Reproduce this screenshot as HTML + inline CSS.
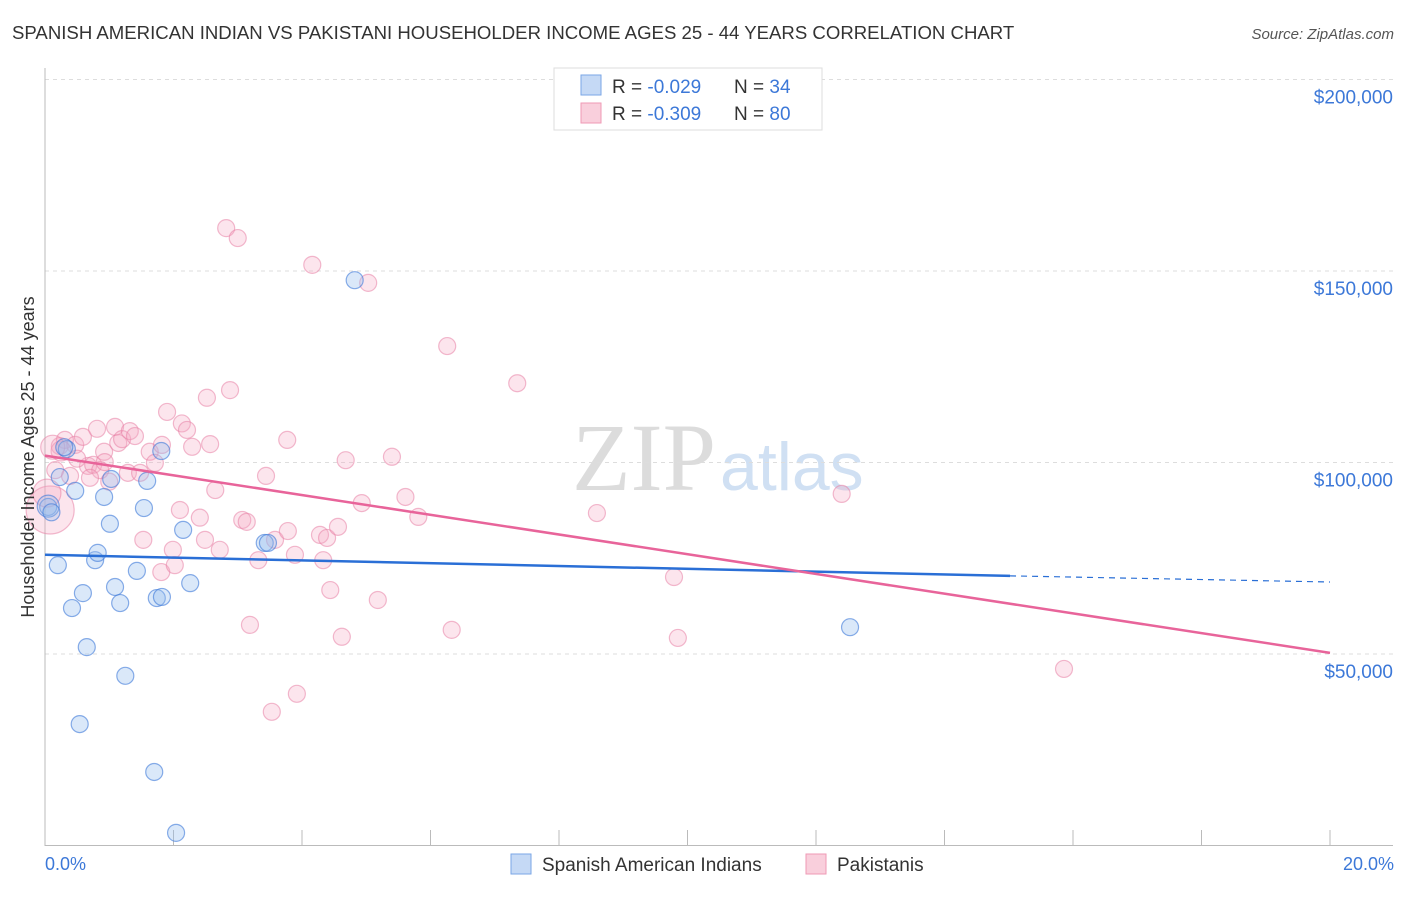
<!DOCTYPE html>
<html><head><meta charset="utf-8"><style>
body{margin:0;background:#fff;font-family:"Liberation Sans",sans-serif}
</style></head><body>
<svg width="1406" height="892" xmlns="http://www.w3.org/2000/svg" font-family="Liberation Sans, sans-serif">
<text x="12" y="39" font-size="18.6" fill="#333">SPANISH AMERICAN INDIAN VS PAKISTANI HOUSEHOLDER INCOME AGES 25 - 44 YEARS CORRELATION CHART</text>
<text x="1394" y="39" font-size="15" fill="#555" font-style="italic" text-anchor="end">Source: ZipAtlas.com</text>
<text x="716" y="490" font-size="96" fill="#dcdcdc" text-anchor="end" font-family="Liberation Serif, serif">ZIP</text>
<text x="720" y="490" font-size="68" fill="#d0e0f3">atlas</text>
<g id="grid"></g><g id="axes"></g><g id="pts"></g><g id="lines"></g>
<text transform="translate(34,457) rotate(-90)" font-size="18" fill="#333" text-anchor="middle">Householder Income Ages 25 - 44 years</text>
<text x="45" y="870" font-size="18" fill="#3c78d8">0.0%</text>
<text x="1394" y="870" font-size="18" fill="#3c78d8" text-anchor="end">20.0%</text>
<g>
<rect x="554" y="68" width="268" height="62" fill="#fff" stroke="#ddd"/>
<rect x="581" y="75" width="20" height="20" fill="#c5d9f5" stroke="#7aa6e6"/>
<rect x="581" y="103" width="20" height="20" fill="#f9cfdc" stroke="#ef9ab5"/>
<text x="612" y="93" font-size="19" fill="#333">R = <tspan fill="#3c78d8">-0.029</tspan></text>
<text x="734" y="93" font-size="19" fill="#333">N = <tspan fill="#3c78d8">34</tspan></text>
<text x="612" y="120" font-size="19" fill="#333">R = <tspan fill="#3c78d8">-0.309</tspan></text>
<text x="734" y="120" font-size="19" fill="#333">N = <tspan fill="#3c78d8">80</tspan></text>
</g>
<g>
<rect x="511" y="854" width="20" height="20" fill="#c5d9f5" stroke="#7aa6e6"/>
<text x="542" y="871" font-size="19" fill="#333">Spanish American Indians</text>
<rect x="806" y="854" width="20" height="20" fill="#f9cfdc" stroke="#ef9ab5"/>
<text x="837" y="871" font-size="19" fill="#333">Pakistanis</text>
</g>
</svg>
<script>
const yTicks=[50000,100000,150000,200000];
const yTickLabels=["$50,000","$100,000","$150,000","$200,000"];
const blueX=[0.05,0.2,0.34,0.23,0.47,0.42,0.59,0.65,0.54,0.78,0.82,0.92,1.01,1.03,1.09,1.17,1.25,1.43,1.54,1.59,1.70,1.74,1.82,1.81,2.04,2.15,2.26,3.42,3.47,4.82,12.53,0.05,0.1,0.3];
const blueY=[88.4,73.2,103.5,96.2,92.6,62.0,65.9,51.8,31.7,74.5,76.4,91.0,84.0,95.7,67.5,63.3,44.3,71.7,88.1,95.2,19.2,64.6,64.9,103.0,3.3,82.4,68.5,79.0,79.0,147.6,57.0,88.6,87.0,104.0];
const blueR=[8.5,8.5,8.5,8.5,8.5,8.5,8.5,8.5,8.5,8.5,8.5,8.5,8.5,8.5,8.5,8.5,8.5,8.5,8.5,8.5,8.5,8.5,8.5,8.5,8.5,8.5,8.5,8.5,8.5,8.5,8.5,11,8.5,8.5];
const pinkX=[0.08,0.16,0.23,0.31,0.39,0.47,0.59,0.67,0.75,0.81,0.86,0.92,0.93,1.09,1.14,1.2,1.29,1.32,1.40,1.48,1.53,1.63,1.71,1.81,1.82,1.90,1.99,2.02,2.10,2.13,2.21,2.29,2.41,2.49,2.57,2.52,2.65,2.72,2.82,2.88,3.00,3.07,3.14,3.19,3.32,3.44,3.53,3.58,3.78,3.77,3.89,3.92,4.16,4.28,4.33,4.39,4.44,4.56,4.62,4.68,4.93,5.03,5.18,5.40,5.61,5.81,6.26,6.33,7.35,8.59,9.79,9.85,12.40,15.86,0.03,0.25,0.5,1.0,0.12,0.7];
const pinkY=[87.6,98,104.3,105.9,96.5,104.6,106.7,99.1,99.4,108.8,98,102.8,100.1,109.3,105.1,106.1,97.3,108.2,106.9,97.3,79.8,102.8,99.9,71.4,104.6,113.2,77.2,73.2,87.6,110.2,108.5,104.1,85.6,79.8,104.8,116.9,92.8,77.2,161.2,118.9,158.6,85.0,84.5,57.6,74.5,96.5,34.9,79.8,82.1,105.9,75.9,39.6,151.6,81.1,74.5,80.3,66.7,83.2,54.5,100.6,89.4,146.9,64.1,101.5,91.0,85.8,130.4,56.3,120.7,86.8,70.1,54.2,91.8,46.1,92,103,101,95,104,96];
const pinkR=[24,8.5,8.5,8.5,8.5,8.5,8.5,8.5,8.5,8.5,8.5,8.5,8.5,8.5,8.5,8.5,8.5,8.5,8.5,8.5,8.5,8.5,8.5,8.5,8.5,8.5,8.5,8.5,8.5,8.5,8.5,8.5,8.5,8.5,8.5,8.5,8.5,8.5,8.5,8.5,8.5,8.5,8.5,8.5,8.5,8.5,8.5,8.5,8.5,8.5,8.5,8.5,8.5,8.5,8.5,8.5,8.5,8.5,8.5,8.5,8.5,8.5,8.5,8.5,8.5,8.5,8.5,8.5,8.5,8.5,8.5,8.5,8.5,8.5,14,10,8.5,8.5,12,8.5];
const blueTrendX=[0,15.02,20];const blueTrendY=[75.9,70.4,68.8];
const pinkTrendX=[0,20];const pinkTrendY=[101.8,50.3];
const NS="http://www.w3.org/2000/svg";
const xs=v=>45+v/20*1285;
const ys=k=>845.5-k/50*191.5;
function mk(t,a,p){const e=document.createElementNS(NS,t);for(const k in a)e.setAttribute(k,a[k]);document.getElementById(p).appendChild(e);return e;}
yTicks.forEach((v,i)=>{
 const g=mk('line',{x1:45,x2:1393,y1:ys(v/1000),y2:ys(v/1000),stroke:'#ddd','stroke-dasharray':'4,4'},'grid');
 
 
 const t=mk('text',{x:1393,y:ys(v/1000)+24,'font-size':19,fill:'#3c78d8','text-anchor':'end'},'grid');
 t.textContent=yTickLabels[i];
 
 
});
const ax=mk('line',{x1:45,x2:45,y1:68,y2:846,stroke:'#bbb'},'axes');


const bx=mk('line',{x1:45,x2:1393,y1:845.5,y2:845.5,stroke:'#bbb'},'axes');


for(let i=0;i<=10;i++){const l=mk('line',{x1:xs(i*2),x2:xs(i*2),y1:830,y2:846,stroke:'#bbb'},'axes');
 
 }
pinkX.forEach((x,i)=>{const c=mk('circle',{cx:xs(x),cy:ys(pinkY[i]),r:pinkR[i],fill:'rgba(244,170,196,0.3)',stroke:'rgba(232,130,166,0.55)','stroke-width':1.2},'pts');
 
 });
blueX.forEach((x,i)=>{const c=mk('circle',{cx:xs(x),cy:ys(blueY[i]),r:blueR[i],fill:'rgba(150,188,238,0.35)',stroke:'rgba(60,120,216,0.6)','stroke-width':1.2},'pts');
 
 });
const b1=mk('line',{x1:xs(blueTrendX[0]),y1:ys(blueTrendY[0]),x2:xs(blueTrendX[1]),y2:ys(blueTrendY[1]),stroke:'#2a6fd6','stroke-width':2.5},'lines');


const b2=mk('line',{x1:xs(blueTrendX[1]),y1:ys(blueTrendY[1]),x2:xs(blueTrendX[2]),y2:ys(blueTrendY[2]),stroke:'#2a6fd6','stroke-width':1.2,'stroke-dasharray':'6,5'},'lines');


const p1=mk('line',{x1:xs(pinkTrendX[0]),y1:ys(pinkTrendY[0]),x2:xs(pinkTrendX[1]),y2:ys(pinkTrendY[1]),stroke:'#e8649a','stroke-width':2.5},'lines');


</script>
</body></html>
